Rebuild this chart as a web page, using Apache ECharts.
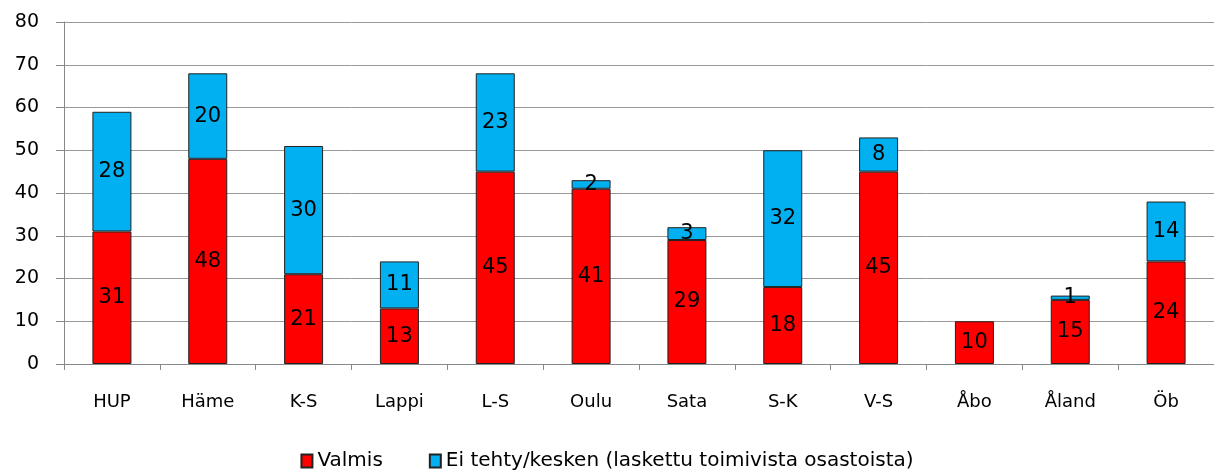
<!DOCTYPE html>
<html>
<head>
<meta charset="utf-8">
<script src="https://cdn.jsdelivr.net/npm/echarts@6/dist/echarts.min.js"></script>
<style>
  html, body { margin: 0; padding: 0; background: #fff; }
  #main { width: 1214px; height: 475px; }
</style>
</head>
<body>
<div id="main"></div>
<script>
var regions = ['HUP', 'Häme', 'K-S', 'Lappi', 'L-S', 'Oulu', 'Sata', 'S-K', 'V-S', 'Åbo', 'Åland', 'Öb'];
var valmis = [31, 48, 21, 13, 45, 41, 29, 18, 45, 10, 15, 24];
var eiTehty = [28, 20, 30, 11, 23, 2, 3, 32, 8, null, 1, 14];

var chartDom = document.getElementById('main');
var myChart = echarts.init(chartDom);
var option;

var font = 'DejaVu Sans, Verdana, sans-serif';

option = {
    animation: false,
    textStyle: { fontFamily: font },
    grid: {
        left: 64,
        top: 22,
        width: 1153,
        height: 342
    },
    legend: {
        top: 446,
        left: 'center',
        padding: 5,
        itemWidth: 11,
        itemHeight: 13,
        itemGap: 46,
        icon: 'rect',
        textStyle: { fontSize: 20, color: '#000', fontFamily: font },
        data: ['Valmis', 'Ei tehty/kesken (laskettu toimivista osastoista)']
    },
    xAxis: {
        type: 'category',
        data: regions,
        axisLine: { lineStyle: { color: '#888', width: 1 } },
        axisTick: { show: true, length: 6, lineStyle: { color: '#888' } },
        axisLabel: { fontSize: 18, color: '#000', margin: 29 }
    },
    yAxis: {
        type: 'value',
        min: 0,
        max: 80,
        interval: 10,
        axisLine: { show: true, lineStyle: { color: '#888' } },
        axisTick: { show: true, length: 8, lineStyle: { color: '#888' } },
        axisLabel: { fontSize: 19, color: '#000', margin: 25 },
        splitLine: { lineStyle: { color: '#999', width: 1 } }
    },
    series: [
        {
            name: 'Valmis',
            type: 'bar',
            stack: 'total',
            barWidth: 39,
            data: valmis,
            itemStyle: { color: '#ff0000', borderColor: '#222', borderWidth: 1 },
            label: { show: true, position: 'inside', color: '#000', fontSize: 21 }
        },
        {
            name: 'Ei tehty/kesken (laskettu toimivista osastoista)',
            type: 'bar',
            stack: 'total',
            barWidth: 39,
            data: eiTehty,
            itemStyle: { color: '#00b0f0', borderColor: '#222', borderWidth: 1 },
            label: { show: true, position: 'inside', color: '#000', fontSize: 21 }
        }
    ]
};

option && myChart.setOption(option);
</script>
</body>
</html>
